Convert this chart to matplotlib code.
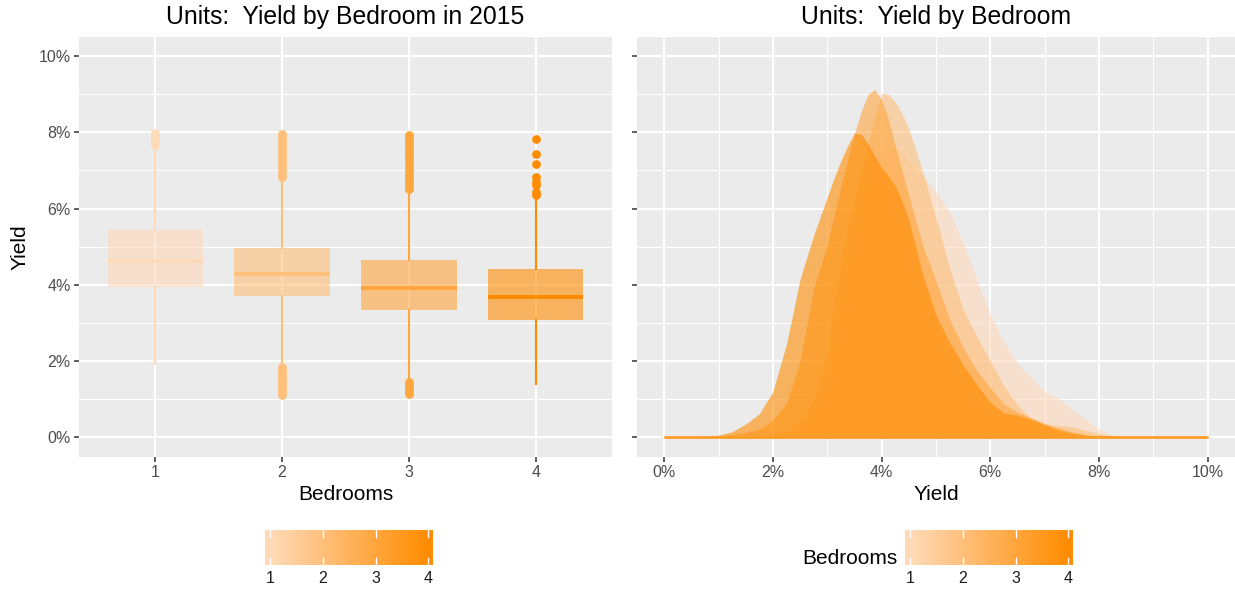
import numpy as np
import matplotlib
matplotlib.use("Agg")
import matplotlib.pyplot as plt
from matplotlib.colors import LinearSegmentedColormap
from matplotlib.ticker import FuncFormatter, MultipleLocator

plt.rcParams['font.family'] = ['Liberation Sans', 'DejaVu Sans']

# ---- data (yield in %) ----
bedrooms = [1, 2, 3, 4]

# box plot summary per bedroom count
whisker_lo = [1.92, 1.98, 1.56, 1.40]
q1 = [3.94, 3.71, 3.34, 3.08]
median = [4.62, 4.29, 3.93, 3.67]
q3 = [5.43, 4.98, 4.64, 4.41]
whisker_hi = [7.60, 6.75, 6.40, 6.22]

outliers_1 = [7.68, 7.72, 7.76, 7.80, 7.85, 7.90, 7.95, 7.98]
outliers_2 = [1.12, 1.18, 1.25, 1.30, 1.38, 1.45, 1.50, 1.58, 1.65, 1.72, 1.78, 1.85,
              6.84, 6.92, 7.00, 7.08, 7.16, 7.24, 7.32, 7.40, 7.48, 7.56, 7.64, 7.72,
              7.80, 7.88, 7.95]
outliers_3 = [1.15, 1.22, 1.30, 1.38, 1.45,
              6.52, 6.60, 6.68, 6.76, 6.84, 6.92, 7.00, 7.10, 7.20, 7.30, 7.38, 7.46,
              7.55, 7.65, 7.72, 7.80, 7.86, 7.92]
outliers_4 = [6.37, 6.44, 6.62, 6.70, 6.83, 7.18, 7.42, 7.82]

# density curves (right panel)
yield_grid = [0.0, 0.5, 0.75, 1.0, 1.25, 1.5, 1.75, 2.0, 2.25, 2.5, 2.75, 3.0,
              3.125, 3.25, 3.375, 3.5, 3.625, 3.75, 3.875, 4.0, 4.125, 4.25, 4.375, 4.5,
              4.75, 5.0, 5.25, 5.5, 5.75, 6.0, 6.25, 6.5, 6.75, 7.0, 7.25, 7.5, 7.75,
              8.0, 8.25, 8.5, 9.0, 10.0]
dens_1 = [0, 0, 0, 0.01, 0.01, 0.02, 0.03, 0.05, 0.10, 0.25, 0.60, 1.50,
          2.50, 3.60, 4.60, 5.50, 6.30, 6.90, 7.30, 7.55, 7.62, 7.60, 7.50, 7.25,
          6.87, 6.45, 5.90, 5.10, 4.15, 3.22, 2.50, 1.95, 1.55, 1.20, 1.03, 0.74, 0.48,
          0.22, 0.04, 0, 0, 0]
dens_2 = [0, 0, 0, 0.01, 0.02, 0.03, 0.05, 0.09, 0.18, 0.45, 1.00, 2.20,
          3.50, 4.60, 5.50, 6.30, 7.00, 7.70, 8.40, 9.02, 9.00, 8.80, 8.50, 8.10,
          7.00, 5.75, 4.45, 3.35, 2.65, 2.00, 1.35, 0.85, 0.50, 0.34, 0.32, 0.28, 0.19,
          0.10, 0.03, 0, 0, 0]
dens_3 = [0, 0, 0.01, 0.03, 0.07, 0.13, 0.22, 0.45, 0.90, 2.00, 3.90, 5.05,
          5.80, 6.55, 7.30, 7.95, 8.55, 9.00, 9.12, 8.85, 8.35, 7.65, 7.00, 6.35,
          5.05, 4.10, 3.10, 2.35, 1.76, 1.30, 0.88, 0.66, 0.52, 0.37, 0.25, 0.15, 0.08,
          0.04, 0.01, 0, 0, 0]
dens_4 = [0, 0, 0.02, 0.06, 0.15, 0.35, 0.62, 1.20, 2.45, 4.15, 5.30, 6.30,
          6.80, 7.25, 7.65, 7.98, 7.95, 7.70, 7.38, 7.08, 6.85, 6.60, 6.20, 5.70,
          4.30, 3.20, 2.50, 1.90, 1.38, 0.92, 0.64, 0.58, 0.48, 0.33, 0.20, 0.11, 0.06,
          0.03, 0.01, 0, 0, 0]

outliers = [outliers_1, outliers_2, outliers_3, outliers_4]
densities = [dens_1, dens_2, dens_3, dens_4]

# ---- styling ----
BG = '#EBEBEB'
TICK_TXT = '#4D4D4D'
TICK_LINE = '#333333'
cmap = LinearSegmentedColormap.from_list('bed', ['#FFDAB9', '#FF8C00'])
ALPHA = 0.6

fig = plt.figure(figsize=(12.35, 5.96), dpi=100)
ax_box = fig.add_axes([79 / 1235, 1 - 456.5 / 596, 533 / 1235, 419.5 / 596])
ax_den = fig.add_axes([637 / 1235, 1 - 456.5 / 596, 598 / 1235, 419.5 / 596])

pct = FuncFormatter(lambda v, _: f"{v:.0f}%")


def style_axes(ax):
    ax.set_facecolor(BG)
    for s in ax.spines.values():
        s.set_visible(False)
    ax.set_axisbelow(True)
    ax.grid(which='major', color='white', lw=1.5)
    ax.grid(which='minor', color='white', lw=0.75)
    ax.tick_params(which='major', length=3.6, width=1.1, color=TICK_LINE,
                   labelcolor=TICK_TXT, labelsize=11.5, pad=2.5)
    ax.tick_params(which='minor', length=0)


# ---- left: box plots ----
style_axes(ax_box)
for i, b in enumerate(bedrooms):
    c = cmap(i / 3)
    stats = dict(whislo=whisker_lo[i], q1=q1[i], med=median[i], q3=q3[i],
                 whishi=whisker_hi[i], fliers=outliers[i])
    ax_box.bxp([stats], positions=[b], widths=0.75, patch_artist=True,
               showcaps=False,
               boxprops=dict(facecolor=(*c[:3], ALPHA), edgecolor='none', lw=0),
               medianprops=dict(color=c, lw=2.9, solid_capstyle='butt'),
               whiskerprops=dict(color=c, lw=1.5),
               flierprops=dict(marker='o', markerfacecolor=c, markeredgecolor='none',
                               markersize=6.3))
ax_box.set_xlim(0.4, 4.6)
ax_box.set_ylim(-0.5, 10.5)
ax_box.set_xticks(bedrooms)
ax_box.set_xticklabels([str(b) for b in bedrooms])
ax_box.yaxis.set_major_locator(MultipleLocator(2))
ax_box.yaxis.set_minor_locator(MultipleLocator(1))
ax_box.yaxis.set_major_formatter(pct)
ax_box.grid(which='minor', axis='x', visible=False)
ax_box.set_xlabel('Bedrooms', fontsize=15, color='black')
ax_box.set_ylabel('Yield', fontsize=15, color='black')
ax_box.xaxis.set_label_coords(0.5, (456.5 - 494) / 419.5)
ax_box.xaxis.label.set_va('center')
ax_box.yaxis.set_label_coords((20 - 79) / 533, 0.5)
ax_box.yaxis.label.set_va('center')
ax_box.text(0.5, 1 + (37 - 17) / 419.5, 'Units:  Yield by Bedroom in 2015',
            transform=ax_box.transAxes, ha='center', va='center', fontsize=17.8)

# ---- right: density curves ----
style_axes(ax_den)
for i, b in enumerate(bedrooms):
    c = cmap(i / 3)
    ax_den.fill_between(yield_grid, densities[i], 0, color=c, alpha=ALPHA, lw=0)
    ax_den.plot([yield_grid[0], yield_grid[-1]], [0, 0], color=c, alpha=ALPHA,
                lw=1.9, solid_capstyle='butt')
ax_den.set_xlim(-0.5, 10.5)
ax_den.set_ylim(-0.5, 10.5)
ax_den.xaxis.set_major_locator(MultipleLocator(2))
ax_den.xaxis.set_minor_locator(MultipleLocator(1))
ax_den.yaxis.set_major_locator(MultipleLocator(2))
ax_den.yaxis.set_minor_locator(MultipleLocator(1))
ax_den.xaxis.set_major_formatter(pct)
ax_den.tick_params(axis='y', labelleft=False)
ax_den.set_xlabel('Yield', fontsize=15, color='black')
ax_den.xaxis.set_label_coords(0.5, (456.5 - 494) / 419.5)
ax_den.xaxis.label.set_va('center')
ax_den.text(0.5, 1 + (37 - 17) / 419.5, 'Units:  Yield by Bedroom',
            transform=ax_den.transAxes, ha='center', va='center', fontsize=17.8)


# ---- colour bar legends ----
def colour_bar(x0, title=None):
    cax = fig.add_axes([x0 / 1235, 1 - 565 / 596, 168 / 1235, 35 / 596])
    lo, hi = 0.9, 4.09
    ramp = np.clip(np.linspace(lo, hi, 400), bedrooms[0], bedrooms[-1])
    cax.imshow(ramp[np.newaxis, :], cmap=cmap, vmin=bedrooms[0], vmax=bedrooms[-1],
               extent=[lo, hi, 0, 1], aspect='auto')
    for b in bedrooms:
        cax.plot([b, b], [0, 0.2], color='white', lw=1)
        cax.plot([b, b], [0.8, 1], color='white', lw=1)
    cax.set_xlim(lo, hi)
    cax.set_ylim(0, 1)
    cax.set_xticks(bedrooms)
    cax.set_xticklabels([str(b) for b in bedrooms])
    cax.set_yticks([])
    cax.tick_params(axis='x', length=0, pad=4, labelsize=11.5, labelcolor='#1A1A1A')
    for s in cax.spines.values():
        s.set_visible(False)
    if title:
        fig.text((x0 - 8) / 1235, 1 - 558 / 596, title, ha='right', va='center',
                 fontsize=15)


colour_bar(265)
colour_bar(905, 'Bedrooms')

fig.savefig('out.png', dpi=100)
